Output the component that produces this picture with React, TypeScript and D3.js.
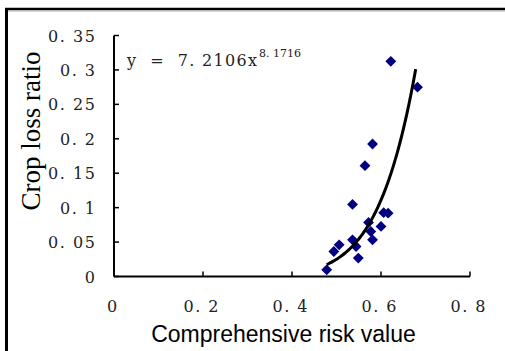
import * as d3 from "d3";

// observed points
const riskValues = [0.622, 0.682, 0.581, 0.564, 0.536, 0.606, 0.616, 0.572, 0.6, 0.577, 0.581, 0.536, 0.544, 0.506, 0.494, 0.549, 0.478];
const lossRatios = [0.3125, 0.275, 0.1924, 0.161, 0.1047, 0.0927, 0.092, 0.0785, 0.0727, 0.0654, 0.0533, 0.0533, 0.0436, 0.046, 0.0363, 0.0267, 0.0097];

// power trend line shown on the chart
const fitA = 7.2106;
const fitB = 8.1716;
const fitRange = [0.478, 0.678];

const xTicks = [0, 0.2, 0.4, 0.6, 0.8];
const xTickLabels = ["0", "0. 2", "0. 4", "0. 6", "0. 8"];
const yTicks = [0, 0.05, 0.1, 0.15, 0.2, 0.25, 0.3, 0.35];
const yTickLabels = ["0", "0. 05", "0. 1", "0. 15", "0. 2", "0. 25", "0. 3", "0. 35"];

const W = 505;
const H = 351;
const serif = "DejaVu Serif, Liberation Serif, serif";

// width a label takes in the original's wide CJK-style digits
const labelWidth = (s: string) => (s.length <= 1 ? undefined : s.length === 4 ? 35 : 47);

export default function App() {
  const x = d3.scaleLinear().domain([0, 0.8]).range([114, 470]);
  const y = d3.scaleLinear().domain([0, 0.35]).range([276.5, 35.5]);

  const fitXs = d3.range(fitRange[0], fitRange[1] + 0.0001, 0.005);
  const line = d3
    .line<number>()
    .x(d => x(d))
    .y(d => y(fitA * Math.pow(d, fitB)))
    .curve(d3.curveMonotoneX);

  const diamond = d3.symbol().type(d3.symbolDiamond2).size(75)();

  return (
    <div style={{ position: "absolute", left: 0, top: 0 }}>
      <svg width={W} height={H} style={{ display: "block", background: "#fff" }}>
        {/* outer frame */}
        <line x1={5} x2={W} y1={9} y2={9} stroke="#000" strokeWidth={2.5} />
        <line x1={5} x2={W} y1={11} y2={11} stroke="#aaa" strokeWidth={1} />
        <line x1={6.5} x2={6.5} y1={8} y2={H} stroke="#000" strokeWidth={3} />

        {/* axes */}
        <line x1={x(0)} x2={x(0.8)} y1={y(0)} y2={y(0)} stroke="#000" strokeWidth={2} />
        <line x1={x(0)} x2={x(0)} y1={y(0.35)} y2={y(0)} stroke="#000" strokeWidth={2} />
        {xTicks.map((t, i) => (
          <g key={"xt" + i}>
            <line x1={x(t)} x2={x(t)} y1={y(0)} y2={y(0) - 5} stroke="#000" strokeWidth={1.5} />
            <text
              x={x(t) - 2}
              y={312}
              textAnchor="middle"
              fontFamily={serif}
              fontSize={16}
              fill="#222"
              style={{ whiteSpace: "pre" }}
              textLength={labelWidth(xTickLabels[i])}
              lengthAdjust="spacing"
            >
              {xTickLabels[i]}
            </text>
          </g>
        ))}
        {yTicks.map((t, i) => (
          <g key={"yt" + i}>
            <line x1={x(0)} x2={x(0) + 5} y1={y(t)} y2={y(t)} stroke="#000" strokeWidth={1.5} />
            <text
              x={95}
              y={y(t) + 6}
              textAnchor="end"
              fontFamily={serif}
              fontSize={16}
              fill="#222"
              style={{ whiteSpace: "pre" }}
              textLength={labelWidth(yTickLabels[i])}
              lengthAdjust="spacing"
            >
              {yTickLabels[i]}
            </text>
          </g>
        ))}

        {/* points */}
        {riskValues.map((v, i) => (
          <path key={"p" + i} d={diamond!} transform={`translate(${x(v)},${y(lossRatios[i])})`} fill="#000080" />
        ))}

        {/* trend line */}
        <path d={line(fitXs)!} fill="none" stroke="#000" strokeWidth={3} />

        {/* equation */}
        <text x={127} y={66} fontFamily={serif} fontSize={16} fill="#222" style={{ whiteSpace: "pre" }}>
          <tspan textLength={130} lengthAdjust="spacing">{"y  =  7. 2106x"}</tspan>
        </text>
        <text x={259} y={57} fontFamily={serif} fontSize={11} fill="#222" style={{ whiteSpace: "pre" }}>
          {"8. 1716"}
        </text>

        {/* axis titles */}
        <text
          transform="translate(40,131) rotate(-90)"
          textAnchor="middle"
          fontFamily="Liberation Serif, Times New Roman, serif"
          fontSize={27}
          fill="#000"
        >
          Crop loss ratio
        </text>
        <text
          x={283.5}
          y={342}
          textAnchor="middle"
          fontFamily="Liberation Sans, Arial, sans-serif"
          fontSize={23}
          fill="#000"
        >
          Comprehensive risk value
        </text>
      </svg>
    </div>
  );
}
